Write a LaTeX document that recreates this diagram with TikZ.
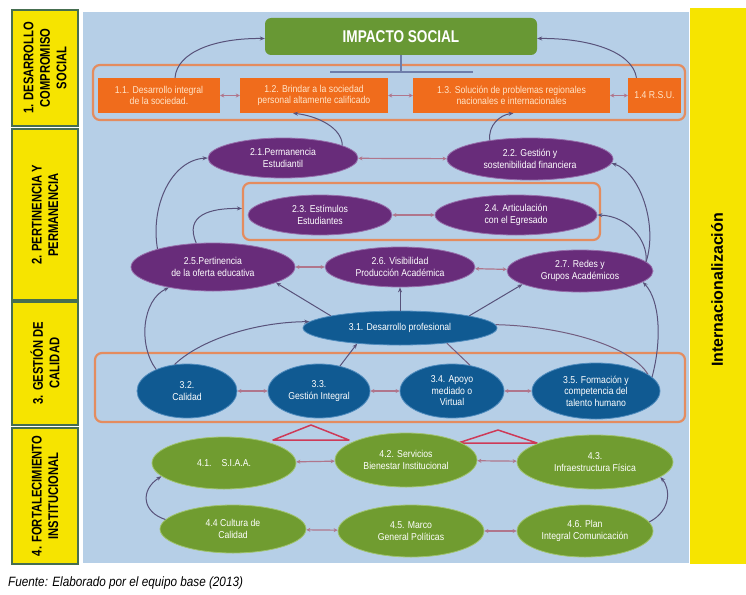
\documentclass[tikz,border=0pt]{standalone}
\usepackage{fontspec}
\setmainfont{Liberation Sans}
\newfontfamily\nf[FakeStretch=0.87]{Liberation Sans}
\newfontfamily\lf[FakeStretch=0.8]{Liberation Sans}
\newfontfamily\wf{Liberation Sans}
\usetikzlibrary{shapes.geometric,arrows.meta}
\definecolor{panel}{RGB}{182,207,231}
\definecolor{ylw}{RGB}{246,228,0}
\definecolor{lborder}{RGB}{70,110,80}
\definecolor{impg}{RGB}{104,152,52}
\definecolor{orf}{RGB}{240,108,28}
\definecolor{ort}{RGB}{255,228,200}
\definecolor{orl}{RGB}{228,140,95}
\definecolor{purf}{RGB}{104,44,122}
\definecolor{purb}{RGB}{150,110,170}
\definecolor{bluf}{RGB}{16,90,146}
\definecolor{blub}{RGB}{80,140,190}
\definecolor{grnf}{RGB}{112,156,48}
\definecolor{grnb}{RGB}{160,195,110}
\definecolor{arc}{RGB}{88,82,122}
\definecolor{dbl}{RGB}{176,118,140}
\definecolor{tri}{RGB}{206,58,88}
\definecolor{hline}{RGB}{110,125,170}
\begin{document}
\begin{tikzpicture}[x=1pt,y=-1pt,
 ell/.style={ellipse,inner sep=0pt,text=white,align=center,font=\nf\fontsize{10}{11.5}\selectfont,line width=0.8pt},
 pur/.style={ell,fill=purf,draw=purb},
 blu/.style={ell,fill=bluf,draw=blub},
 grn/.style={ell,fill=grnf,draw=grnb},
 sz/.style 2 args={minimum width=#1pt,minimum height=#2pt},
 obx/.style={rectangle,fill=orf,inner sep=1pt,text=ort,align=center,font=\nf\fontsize{10}{11.5}\selectfont},
 outl/.style={rectangle,rounded corners=7pt,draw=orl,line width=2.2pt,inner sep=0pt},
 lbox/.style={fill=ylw,draw=lborder,line width=1.6pt},
 lab/.style={rotate=90,align=center,font=\lf\bfseries\fontsize{14}{16.5}\selectfont,text=black},
 curv/.style={draw=arc,line width=1pt,-{Stealth[length=5pt,width=4pt]}},
 thinl/.style={draw=arc!70!dbl,line width=1pt},
 dbla/.style={draw=dbl,line width=1.2pt,{Stealth[length=4pt,width=4pt]}-{Stealth[length=4pt,width=4pt]}},
 trist/.style={draw=tri,line width=1.5pt,line join=round},
]
\fill[white] (0,0) rectangle (746,594);
\useasboundingbox (0,0) rectangle (746,594);
% panels
\fill[panel] (83,12) rectangle (689,563);
\fill[ylw] (690,8) rectangle (746,564);
\draw[lbox] (12,10) rectangle (78,126);
\draw[lbox] (12,129) rectangle (78,300);
\draw[lbox] (12,302) rectangle (78,425);
\draw[lbox] (12,428) rectangle (78,564);
\node[lab] (l1) at (45,68) {1. DESARROLLO\\COMPROMISO\\SOCIAL};
\node[lab] (l2) at (45,215) {2. PERTINENCIA Y\\PERMANENCIA};
\node[lab] (l3) at (45,363) {3. GESTIÓN DE\\CALIDAD};
\node[lab] (l4) at (45,496) {4. FORTALECIMIENTO\\INSTITUCIONAL};
\node[rotate=90,font=\wf\bfseries\fontsize{16}{18}\selectfont] (intl) at (717,290) {Internacionalización};
% row 1
\node[rectangle,rounded corners=6pt,fill=impg,text=white,sz={272}{37},font=\lf\bfseries\fontsize{17}{19}\selectfont] (imp) at (401,36.5) {IMPACTO SOCIAL};
\node[outl,sz={592}{55}] (box1) at (389,92.5) {};
\coordinate (hl) at (330,72);
\coordinate (hr) at (473,72);
\draw[hline,line width=1.5pt] (hl) -- (hr);
\draw[hline,line width=1.5pt] (imp.south) -- (imp.south |- hl);
\node[obx,sz={122}{35}] (o11) at (159,95.5) {1.1. Desarrollo integral\\de la sociedad.};
\node[obx,sz={148}{35}] (o12) at (314,95.5) {1.2. Brindar a la sociedad\\personal altamente calificado};
\node[obx,sz={197}{35}] (o13) at (511.5,95.5) {1.3. Solución de problemas regionales\\nacionales e internacionales};
\node[obx,sz={53}{35}] (o14) at (654.5,95.5) {1.4 R.S.U.};
\draw[dbla] (o11) -- (o12);
\draw[dbla] (o12) -- (o13);
\draw[dbla] (o13) -- (o14);
\draw[curv] ([xshift=16pt]o11.north) .. controls (177,52) and (215,38) .. ([yshift=-2pt]imp.west);
\draw[curv] ([xshift=-18pt]o14.north) .. controls (632,50) and (585,38) .. ([yshift=-2pt]imp.east);
% row 2
\node[outl,sz={357}{57}] (box2) at (421.5,211.5) {};
\node[pur,sz={150}{40}] (p21) at (283,158) {2.1.Permanencia\\Estudiantil};
\node[pur,sz={166}{42}] (p22) at (530,159) {2.2. Gestión y\\sostenibilidad financiera};
\node[pur,sz={144}{40}] (p23) at (320,215) {2.3. Estímulos\\Estudiantes};
\node[pur,sz={162}{40}] (p24) at (516,215) {2.4. Articulación\\con el Egresado};
\node[pur,sz={164}{48}] (p25) at (213,267) {2.5.Pertinencia\\de la oferta educativa};
\node[pur,sz={150}{40}] (p26) at (400,267) {2.6. Visibilidad\\Producción Académica};
\node[pur,sz={146}{42}] (p27) at (580,271) {2.7. Redes y\\Grupos Académicos};
\draw[dbla] (p21) -- (p22);
\draw[dbla] (p23) -- (p24);
\draw[dbla] (p25) -- (p26);
\draw[dbla] (p26) -- (p27);
\draw[curv] (p21.12) .. controls (342,128) and (318,116) .. ([xshift=-21pt]o12.south);
\draw[curv] (p22.155) .. controls (488,125) and (500,115) .. ([xshift=2pt]o13.south);
\draw[curv] (p25.162) .. controls (150,205) and (172,160) .. (p21.west);
\draw[curv] (p25.125) .. controls (184,215) and (210,208) .. ([yshift=3pt]box2.west);
\draw[curv] (p27.8) .. controls (658,225) and (640,172) .. (p22.-3);
\draw[curv] (p27.8) .. controls (648,240) and (628,216) .. (p24.east);
% row 3
\node[outl,sz={590}{69}] (box3) at (390,387.5) {};
\node[blu,sz={194}{34}] (p31) at (400,328) {3.1. Desarrollo profesional};
\node[blu,sz={100}{54}] (p32) at (187,391) {3.2.\\Calidad};
\node[blu,sz={102}{54}] (p33) at (319,391) {3.3.\\Gestión Integral};
\node[blu,sz={104}{54}] (p34) at (452,391) {3.4. Apoyo\\mediado o\\Virtual};
\node[blu,sz={128}{56}] (p35) at (596,391) {3.5. Formación y\\competencia del\\talento humano};
\draw[dbla] (p32) -- (p33);
\draw[dbla] (p33) -- (p34);
\draw[dbla] (p34) -- (p35);
\draw[curv] (p32.145) .. controls (138,345) and (142,300) .. (p25.205);
\draw[curv] (p32.115) .. controls (200,340) and (255,322) .. (p31.176);
\draw[curv] (p33.50) -- (p31.200);
\draw[curv] (p31.170) -- (p25.-14);
\draw[curv] (p31.north) -- (p26.south);
\draw[curv] (p31.10) -- (p27.193);
\draw[thinl] (p31.-18) -- (p34.55);
\draw[thinl] (p31.2) .. controls (560,326) and (630,345) .. (p35.18);
\draw[curv] (p35.14) .. controls (662,340) and (660,300) .. (p27.-10);
% row 4
\draw[trist] (273,440) -- (311,425) -- (349,440) -- cycle;
\draw[trist] (458,443) -- (498,430) -- (537,443) -- cycle;
\node[grn,sz={144}{52}] (p41) at (224,463) {4.1.\quad S.I.A.A.};
\node[grn,sz={142}{54}] (p42) at (406,460) {4.2. Servicios\\Bienestar Institucional};
\node[grn,sz={156}{54}] (p43) at (595,462) {4.3.\\Infraestructura Física};
\node[grn,sz={146}{48}] (p44) at (233,529) {4.4 Cultura de\\Calidad};
\node[grn,sz={146}{52}] (p45) at (411,531) {4.5. Marco\\General Políticas};
\node[grn,sz={136}{52}] (p46) at (585,531) {4.6. Plan\\Integral Comunicación};
\draw[dbla] (p41) -- (p42);
\draw[dbla] (p42) -- (p43);
\draw[dbla] (p44) -- (p45);
\draw[dbla] (p45) -- (p46);
\draw[curv] (p44.172) .. controls (142,512) and (140,490) .. (p41.192);
\draw[curv] (p46.8) .. controls (672,510) and (670,488) .. (p43.-13);
% caption
\node[anchor=west,inner sep=0pt,font=\nf\itshape\fontsize{13.5}{15}\selectfont] (cap) at (8,583) {Fuente: Elaborado por el equipo base (2013)};
\end{tikzpicture}
\end{document}
